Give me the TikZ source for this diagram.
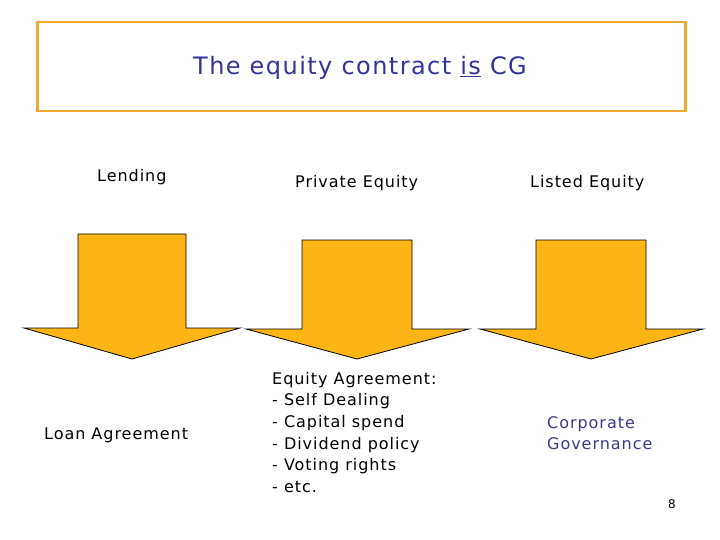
\documentclass[tikz,border=0pt]{standalone}
\usepackage{fontspec}
\setmainfont{DejaVu Sans}
\newfontfamily\spacedfont[LetterSpace=6]{DejaVu Sans}
\definecolor{arrowfill}{HTML}{FDB515}
\definecolor{frameor}{HTML}{F0A830}
\definecolor{titlenavy}{HTML}{333399}
\definecolor{cgblue}{HTML}{3A3A8C}
\begin{document}
\begin{tikzpicture}[x=1pt,y=-1pt,
  lbl/.style={font=\spacedfont\fontsize{16}{21.6}\selectfont,inner sep=0pt},
  bigarrow/.style={fill=arrowfill,draw=black,line width=0.8pt,line join=miter}]
\useasboundingbox (0,0) rectangle (720,540);
\node[draw=frameor,line width=2.5pt,minimum width=648pt,minimum height=89pt,anchor=north west] (frame) at (36,21) {};
\node[font=\spacedfont\fontsize{24}{28}\selectfont,text=titlenavy] (title) at (360,68) {The equity contract \underline{is} CG};
\node[lbl,anchor=west] (lend) at (97,177) {Lending};
\node[lbl,anchor=west] (pe) at (295,183) {Private Equity};
\node[lbl,anchor=west] (le) at (530,183) {Listed Equity};
\draw[bigarrow] (78,234) -- (186,234) -- (186,328) -- (240,328) -- (132,359) -- (24,328) -- (78,328) -- cycle;
\draw[bigarrow] (302,240) -- (412,240) -- (412,329) -- (469,329) -- (357,359) -- (246,329) -- (302,329) -- cycle;
\draw[bigarrow] (536,240) -- (646,240) -- (646,329) -- (703,329) -- (591,359) -- (480,329) -- (536,329) -- cycle;
\node[lbl,anchor=west] (loan) at (44,435) {Loan Agreement};
\node[lbl,anchor=north west,align=left] (ea) at (272,372) {Equity Agreement:\\- Self Dealing\\- Capital spend\\- Dividend policy\\- Voting rights\\- etc.};
\node[lbl,anchor=west,align=left,text=cgblue] (cg) at (547,433) {Corporate\\Governance};
\node[font=\fontsize{12}{14}\selectfont,inner sep=0pt] (pg) at (672,504) {8};
\end{tikzpicture}
\end{document}
